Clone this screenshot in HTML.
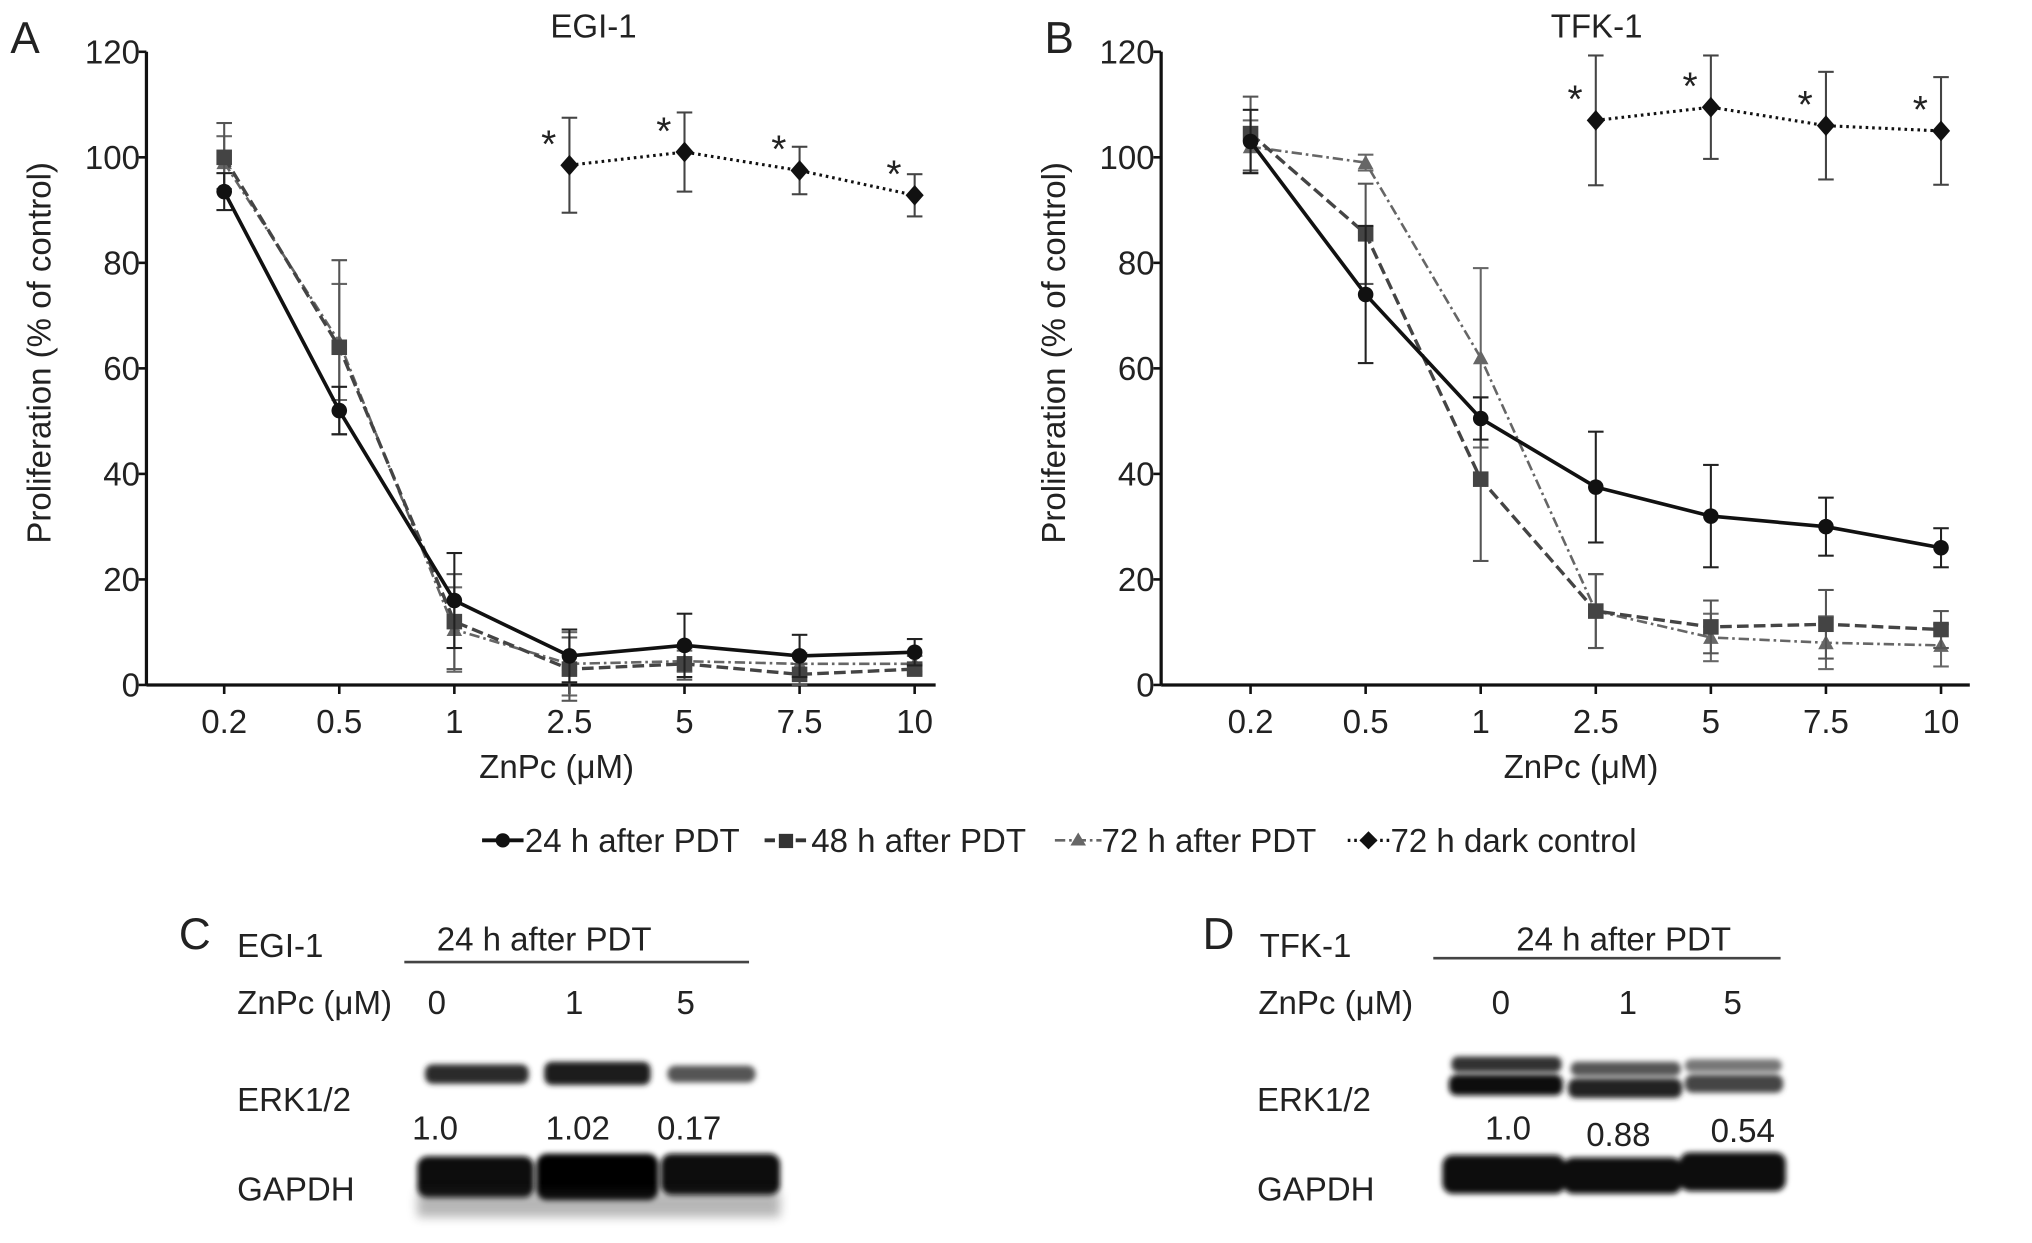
<!DOCTYPE html>
<html><head><meta charset="utf-8"><style>
html,body{margin:0;padding:0;background:#fff}
svg{display:block}
text{font-family:"Liberation Sans",sans-serif;fill:#222}
</style></head><body>
<svg id="fig" width="2032" height="1243" viewBox="0 0 1568 960" preserveAspectRatio="none">
<defs>
<filter id="blur" x="-20%" y="-50%" width="140%" height="200%"><feGaussianBlur stdDeviation="4"/></filter>
<filter id="blur2" x="-20%" y="-50%" width="140%" height="200%"><feGaussianBlur stdDeviation="2"/></filter>
</defs>
<g id="panelA"></g>
<g id="panelB"></g>

<g>
 <g><line x1="372" y1="649" x2="404" y2="649" stroke="#111" stroke-width="3"/><circle cx="388" cy="649" r="5.5" fill="#111"/><text x="405" y="658" font-size="25.5">24 h after PDT</text></g>
 <g><line x1="590" y1="649" x2="624" y2="649" stroke="#333" stroke-width="3" stroke-dasharray="8 4"/><rect x="601" y="644" width="11" height="11" fill="#333"/><text x="626" y="658" font-size="25.5">48 h after PDT</text></g>
 <g><line x1="814" y1="649" x2="850" y2="649" stroke="#666" stroke-width="2" stroke-dasharray="8 3 2 3"/><polygon points="832,643 838,653 826,653" fill="#666"/><text x="850" y="658" font-size="25.5">72 h after PDT</text></g>
 <g><line x1="1040" y1="649" x2="1072" y2="649" stroke="#111" stroke-width="2.5" stroke-dasharray="2 3"/><polygon points="1056,642 1063,649 1056,656 1049,649" fill="#111"/><text x="1073" y="658" font-size="25.5">72 h dark control</text></g>
</g>

<g>
 <text x="138" y="733" font-size="34">C</text>
 <text x="183" y="739" font-size="25.5">EGI-1</text>
 <text x="337" y="734" font-size="25.5">24 h after PDT</text>
 <line x1="312" y1="743" x2="578" y2="743" stroke="#444" stroke-width="2"/>
 <text x="183" y="783" font-size="25.5">ZnPc (μM)</text>
 <text x="330" y="783" font-size="25.5">0</text><text x="436" y="783" font-size="25.5">1</text><text x="522" y="783" font-size="25.5">5</text>
 <text x="183" y="858" font-size="25.5">ERK1/2</text>
 <text x="318" y="880" font-size="25.5">1.0</text><text x="421" y="880" font-size="25.5">1.02</text><text x="507" y="880" font-size="25.5">0.17</text>
 <text x="183" y="927" font-size="25.5">GAPDH</text>
 <g filter="url(#blur2)">
  <rect x="328" y="822" width="80" height="15" rx="6" fill="#2a2a2a"/>
  <rect x="420" y="820" width="82" height="18" rx="6" fill="#1e1e1e"/>
  <rect x="515" y="823" width="68" height="13" rx="6" fill="#555"/>
  <rect x="322" y="893" width="90" height="32" rx="8" fill="#0a0a0a"/>
  <rect x="414" y="891" width="94" height="36" rx="8" fill="#050505"/>
  <rect x="510" y="891" width="92" height="32" rx="8" fill="#080808"/>
 </g>
 <g filter="url(#blur)" opacity="0.35">
  <rect x="322" y="920" width="280" height="20" fill="#333"/>
 </g>
</g>

<g>
 <text x="928" y="733" font-size="34">D</text>
 <text x="972" y="739" font-size="25.5">TFK-1</text>
 <text x="1170" y="734" font-size="25.5">24 h after PDT</text>
 <line x1="1106" y1="740" x2="1374" y2="740" stroke="#444" stroke-width="2"/>
 <text x="971" y="783" font-size="25.5">ZnPc (μM)</text>
 <text x="1151" y="783" font-size="25.5">0</text><text x="1249" y="783" font-size="25.5">1</text><text x="1330" y="783" font-size="25.5">5</text>
 <text x="970" y="858" font-size="25.5">ERK1/2</text>
 <text x="1146" y="880" font-size="25.5">1.0</text><text x="1224" y="885" font-size="25.5">0.88</text><text x="1320" y="882" font-size="25.5">0.54</text>
 <text x="970" y="927" font-size="25.5">GAPDH</text>
 <g filter="url(#blur2)">
  <rect x="1120" y="816" width="85" height="12" rx="5" fill="#333"/>
  <rect x="1118" y="830" width="88" height="16" rx="6" fill="#111"/>
  <rect x="1212" y="820" width="85" height="11" rx="5" fill="#555"/>
  <rect x="1210" y="833" width="88" height="15" rx="6" fill="#222"/>
  <rect x="1300" y="818" width="75" height="10" rx="5" fill="#777"/>
  <rect x="1300" y="830" width="76" height="14" rx="6" fill="#444"/>
  <rect x="1113" y="892" width="95" height="30" rx="8" fill="#0a0a0a"/>
  <rect x="1206" y="894" width="92" height="28" rx="8" fill="#0d0d0d"/>
  <rect x="1296" y="890" width="82" height="30" rx="8" fill="#0a0a0a"/>
 </g>
</g>
</svg>
<script>
const categories = ["0.2","0.5","1","2.5","5","7.5","10"];
const yTicks = [0,20,40,60,80,100,120];
const a24 = [93.5,52,16,5.5,7.5,5.5,6.2];
const a24e = [3.5,4.5,9,5,6,4,2.5];
const a48 = [100,64,12,3,4,2,3];
const a48e = [6.5,16.5,9,6,3,2,1];
const a72 = [99,65,10.5,4,4.5,4,4];
const a72e = [5,11,8,6,2,2,1.5];
const aDark = [null,null,null,98.5,101,97.5,92.8];
const aDarkE = [null,null,null,9,7.5,4.5,4];
const b24 = [103,74,50.5,37.5,32,30,26];
const b24e = [6,13,4,10.5,9.7,5.5,3.7];
const b48 = [104.5,85.5,39,14,11,11.5,10.5];
const b48e = [7,9.5,15.5,7,5,6.5,3.5];
const b72 = [102,99,62,14,9,8,7.5];
const b72e = [5,1.5,17,7,4.5,5,4];
const bDark = [null,null,null,107,109.5,106,105];
const bDarkE = [null,null,null,12.3,9.8,10.2,10.2];

const NS="http://www.w3.org/2000/svg";
function mk(tag,attrs,parent){const e=document.createElementNS(NS,tag);for(const k in attrs)e.setAttribute(k,attrs[k]);parent.appendChild(e);return e;}

function drawPanel(g,cfg){
  const x0=cfg.x0, x1=cfg.x1, yTop=40, yBot=529;
  const ys=v=>yBot-(v/120)*(yBot-yTop);
  const xs=i=>cfg.first+i*cfg.step;
  const ax=mk('line',{x1:x0,y1:yTop,x2:x0,y2:yBot,stroke:'#111','stroke-width':2.5},g);
  
  
  const bx=mk('line',{x1:x0,y1:yBot,x2:x1,y2:yBot,stroke:'#111','stroke-width':2.5},g);
  
  
  yTicks.forEach(t=>{
    mk('line',{x1:x0-6,y1:ys(t),x2:x0,y2:ys(t),stroke:'#111','stroke-width':2},g);
    const tx=mk('text',{x:x0-5,y:ys(t)+9,'text-anchor':'end','font-size':25.5},g);
    tx.textContent=t;
    
    
  });
  categories.forEach((c,i)=>{
    mk('line',{x1:xs(i),y1:yBot,x2:xs(i),y2:yBot+7,stroke:'#111','stroke-width':2},g);
    const tx=mk('text',{x:xs(i),y:yBot+37,'text-anchor':'middle','font-size':25.5},g);
    tx.textContent=c;
    
    
  });
  const xt=mk('text',{x:(x0+x1)/2+12,y:601,'text-anchor':'middle','font-size':25.5},g);
  xt.textContent='ZnPc (μM)';
  
  
  const yt=mk('text',{x:0,y:0,'text-anchor':'middle','font-size':25.5,transform:`translate(${x0-74},${(yTop+yBot)/2-12}) rotate(-90)`},g);
  yt.textContent='Proliferation (% of control)';
  
  
  const tt=mk('text',{x:cfg.titleX,y:29,'text-anchor':'middle','font-size':25.5},g);
  tt.textContent=cfg.title;
  
  
  const pl=mk('text',{x:cfg.labelX,y:41,'font-size':34},g);
  pl.textContent=cfg.label;
  
  

  cfg.series.forEach(s=>{
    const sg=mk('g',{},g);
    
    
    const pts=[];
    s.v.forEach((v,i)=>{ if(v!==null) pts.push([xs(i),ys(v),i]); });
    pts.forEach(p=>{
      const e=s.e[p[2]], v=s.v[p[2]];
      mk('line',{x1:p[0],y1:ys(v+e),x2:p[0],y2:ys(v-e),stroke:s.ec,'stroke-width':1.6},sg);
      mk('line',{x1:p[0]-6,y1:ys(v+e),x2:p[0]+6,y2:ys(v+e),stroke:s.ec,'stroke-width':1.6},sg);
      mk('line',{x1:p[0]-6,y1:ys(v-e),x2:p[0]+6,y2:ys(v-e),stroke:s.ec,'stroke-width':1.6},sg);
    });
    mk('polyline',{points:pts.map(p=>p[0]+','+p[1]).join(' '),fill:'none',stroke:s.c,'stroke-width':s.w,'stroke-dasharray':s.dash},sg);
    pts.forEach(p=>{
      let m;
      if(s.m==='circle') m=mk('circle',{cx:p[0],cy:p[1],r:6,fill:s.c},sg);
      else if(s.m==='square') m=mk('rect',{x:p[0]-6,y:p[1]-6,width:12,height:12,fill:s.c},sg);
      else if(s.m==='tri') m=mk('polygon',{points:`${p[0]},${p[1]-6} ${p[0]+6},${p[1]+5} ${p[0]-6},${p[1]+5}`,fill:s.c},sg);
      else {
        m=mk('polygon',{points:`${p[0]},${p[1]-8} ${p[0]+7},${p[1]} ${p[0]},${p[1]+8} ${p[0]-7},${p[1]}`,fill:s.c},sg);
        const st=mk('text',{x:p[0]-16,y:p[1]-6,'text-anchor':'middle','font-size':30,fill:'#444'},sg);
        st.textContent='*';
        
        
      }
      
      
    });
  });
}
drawPanel(document.getElementById('panelA'),{x0:113,x1:722,first:173,step:88.8,title:'EGI-1',titleX:458,label:'A',labelX:8,
 series:[
  {name:'series-72h',v:a72,e:a72e,c:'#666',ec:'#666',w:2,dash:'8 3 2 3',m:'tri'},
  {name:'series-48h',v:a48,e:a48e,c:'#444',ec:'#555',w:2.6,dash:'9 4',m:'square'},
  {name:'series-24h',v:a24,e:a24e,c:'#111',ec:'#222',w:2.8,dash:'none',m:'circle'},
  {name:'series-dark',v:aDark,e:aDarkE,c:'#111',ec:'#444',w:2.4,dash:'2 3',m:'diamond'}]});
drawPanel(document.getElementById('panelB'),{x0:896,x1:1520,first:965,step:88.8,title:'TFK-1',titleX:1232,label:'B',labelX:806,
 series:[
  {name:'series-72h',v:b72,e:b72e,c:'#666',ec:'#666',w:2,dash:'8 3 2 3',m:'tri'},
  {name:'series-48h',v:b48,e:b48e,c:'#444',ec:'#555',w:2.6,dash:'9 4',m:'square'},
  {name:'series-24h',v:b24,e:b24e,c:'#111',ec:'#222',w:2.8,dash:'none',m:'circle'},
  {name:'series-dark',v:bDark,e:bDarkE,c:'#111',ec:'#444',w:2.4,dash:'2 3',m:'diamond'}]});
</script>
</body></html>
